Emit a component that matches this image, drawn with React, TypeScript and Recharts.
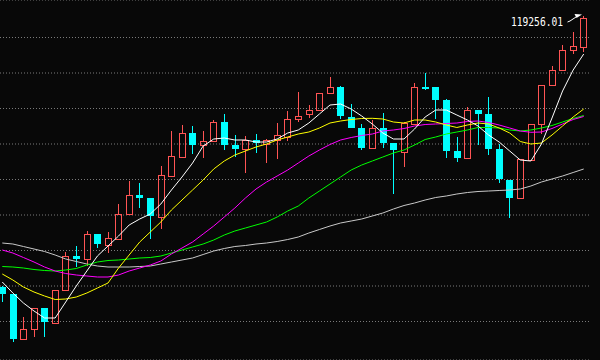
import React from 'react';
import { ComposedChart, Bar, Line, XAxis, YAxis, CartesianGrid, ReferenceDot } from 'recharts';

const days = [
  'D01','D02','D03','D04','D05','D06','D07','D08','D09','D10',
  'D11','D12','D13','D14','D15','D16','D17','D18','D19','D20',
  'D21','D22','D23','D24','D25','D26','D27','D28','D29','D30',
  'D31','D32','D33','D34','D35','D36','D37','D38','D39','D40',
  'D41','D42','D43','D44','D45','D46','D47','D48','D49','D50',
  'D51','D52','D53','D54','D55','D56',
];

const opens = [
  65000, 63600, 54540, 56540, 60800, 57860, 64340, 71200, 70600, 75600,
  73460, 74660, 79540, 83340, 82800, 79060, 87260, 91060, 95800, 93340,
  94140, 97940, 93340, 92540, 94460, 93600, 94460, 95000, 98540, 99540,
  100340, 103740, 105000, 99060, 96860, 92740, 96740, 93740, 92060, 97660,
  105000, 104940, 102400, 92200, 90740, 100340, 99660, 92600, 86460, 82740,
  90460, 97540, 105340, 108340, 112340, 113060,
];
const highs = [
  65200, 63600, 59060, 60800, 60800, 64400, 71940, 73200, 76200, 75600,
  76000, 81600, 86200, 85860, 82800, 89200, 96200, 97400, 97200, 96200,
  98400, 99660, 95340, 95200, 95600, 94600, 97860, 100260, 104060, 101400,
  103800, 107000, 105200, 101540, 97540, 98340, 99740, 93740, 97940, 105740,
  107800, 104940, 102600, 95000, 101000, 100340, 103000, 93540, 86460, 90600,
  97600, 105400, 109200, 113400, 115940, 119256.01,
];
const lows = [
  62000, 54060, 54540, 55060, 54940, 57860, 64340, 69060, 69200, 72900,
  71740, 74660, 79540, 80860, 74660, 76660, 87260, 91060, 91700, 90860,
  94140, 92400, 90940, 87860, 91860, 89860, 90660, 94200, 97940, 98740,
  100340, 103740, 98660, 96740, 92460, 92740, 92860, 83540, 89060, 97660,
  104400, 98600, 90740, 90060, 90740, 93400, 91460, 85740, 78740, 82740,
  90460, 95660, 105340, 108340, 111660, 112060,
];
const closes = [
  63600, 54660, 56540, 60800, 58060, 64400, 71200, 70600, 75540, 73700,
  74800, 79540, 83340, 82800, 79200, 87340, 91140, 95740, 93460, 94200,
  97940, 93460, 92660, 94460, 93740, 94460, 95340, 98600, 99140, 100340,
  103800, 104940, 99200, 96860, 92860, 96740, 93860, 92340, 97740, 104940,
  104740, 102460, 92260, 90860, 100340, 99660, 92660, 86540, 82860, 90600,
  97600, 105400, 108340, 112340, 113140, 118740,
];

const ma5 = [
  66000, 63800, 61800, 60200, 58800, 58800, 62000, 65200, 68200, 71200,
  73200, 75200, 77400, 78600, 79600, 81600, 84400, 87000, 89800, 93200,
  94600, 94800, 94400, 94400, 94000, 94000, 94600, 95800, 96400, 97800,
  99600, 101400, 101600, 100600, 99200, 97600, 95800, 94600, 94600, 96600,
  99000, 100400, 100400, 99400, 98400, 97200, 95400, 94000, 92200, 90400,
  90200, 93600, 98800, 104200, 108400, 111600,
];
const ma10 = [
  67600, 66400, 65000, 64000, 63200, 62500, 62600, 63000, 63800, 64800,
  65800, 68800, 71400, 74000, 76000, 78000, 80400, 82400, 84400, 86400,
  88600, 90200, 91400, 92200, 93000, 93600, 94400, 95000, 95600, 96000,
  96800, 97800, 98200, 98500, 98700, 98740, 98600, 98000, 97800, 98400,
  98400, 98000, 97400, 96900, 97400, 97800, 97600, 96800, 95800, 94100,
  93600, 93800, 95400, 97200, 99000, 100600,
];
const ma20 = [
  72400, 71800, 70900, 70000, 69000, 68200, 67700, 67400, 67200, 67000,
  67000, 67400, 68200, 68800, 69400, 70200, 71600, 72800, 74000, 75600,
  77200, 79000, 80800, 82800, 84600, 86000, 87200, 88400, 89800, 91200,
  92400, 93500, 94400, 94900, 95300, 95600, 96200, 96400, 96700, 97200,
  97500, 97600, 97700, 97800, 98100, 98200, 97900, 97400, 96800, 96200,
  95940, 96000, 96700, 97600, 98500, 99100,
];
const ma30 = [
  69100, 69000, 68800, 68500, 68300, 68200, 68400, 68700, 69400, 70000,
  70300, 70400, 70600, 70800, 70900, 71200, 71800, 72400, 73000, 73600,
  74400, 75400, 76200, 76800, 77400, 78000, 79000, 80200, 81200, 82800,
  84200, 85600, 87000, 88400, 89400, 90200, 91000, 91800, 92400, 93400,
  94500, 95000, 95600, 96000, 96400, 96900, 96900, 96800, 96400, 96200,
  96400, 96800, 97300, 98000, 98700, 99300,
];
const ma60 = [
  73800, 73600, 73100, 72600, 72100, 71400, 70600, 70100, 69600, 69200,
  69000, 69000, 69000, 69100, 69200, 69600, 70000, 70400, 70800, 71500,
  72200, 72700, 73100, 73300, 73600, 73800, 74100, 74500, 75000, 75800,
  76500, 77200, 77800, 78200, 78600, 79200, 79800, 80600, 81300, 81800,
  82400, 82900, 83200, 83600, 83900, 84100, 84200, 84300, 84400, 84600,
  85200, 86000, 86600, 87200, 87900, 88600,
];

const gridTicks = [114900, 107800, 100700, 93600, 86500, 79400, 72300, 65200, 58100];
const priceDomain = [50400, 122400];

const RED = '#ff5454';
const CYAN = '#00ffff';
const BG = '#080808';

const data = days.map((d, i) => ({
  d,
  open: opens[i],
  high: highs[i],
  low: lows[i],
  close: closes[i],
  ma5: ma5[i],
  ma10: ma10[i],
  ma20: ma20[i],
  ma30: ma30[i],
  ma60: ma60[i],
}));

const lastIdx = days.length - 1;

const Candle = (props: any) => {
  const { x, y, width, height, payload } = props;
  if (!payload || x == null || y == null) return null;
  const { open, close, high, low } = payload;
  const up = close >= open;
  const span = high - low || 1;
  const toY = (v: number) => y + ((high - v) / span) * height;
  const cx = Math.floor(x + width / 2) + 0.5;
  const yHigh = Math.round(toY(high));
  const yLow = Math.round(toY(low));
  const yTop = Math.round(toY(Math.max(open, close)));
  const yBot = Math.round(toY(Math.min(open, close)));
  if (up) {
    return (
      <g>
        {yTop > yHigh && <line x1={cx} x2={cx} y1={yHigh} y2={yTop} stroke={RED} strokeWidth={1} />}
        {yLow > yBot && <line x1={cx} x2={cx} y1={yBot} y2={yLow} stroke={RED} strokeWidth={1} />}
        <rect x={cx - 3} y={yTop + 0.5} width={6} height={Math.max(yBot - yTop, 1)} fill="none" stroke={RED} strokeWidth={1} />
      </g>
    );
  }
  return (
    <g>
      <line x1={cx} x2={cx} y1={yHigh} y2={Math.max(yLow, yHigh + 1)} stroke={CYAN} strokeWidth={1} />
      <rect x={cx - 3.5} y={yTop} width={7} height={Math.max(yBot - yTop, 2)} fill={CYAN} />
    </g>
  );
};

const Annotation = (props: any) => {
  const { cx, cy } = props;
  if (cx == null || cy == null) return null;
  const tx = Math.floor(cx);
  const ty = Math.round(cy);
  return (
    <g>
      <text
        x={tx - 72}
        y={ty + 10}
        fill="#ffffff"
        fontFamily="'DejaVu Sans Mono', monospace"
        fontSize={11.5}
        textLength={52}
        lengthAdjust="spacingAndGlyphs"
      >
        {highs[lastIdx].toFixed(2)}
      </text>
      <path
        d={`M ${tx - 15.5} ${ty + 6} L ${tx - 13} ${ty + 5} L ${tx - 7} ${ty + 1}`}
        fill="none"
        stroke="#ffffff"
        strokeWidth={1}
      />
      <path d={`M ${tx - 8.5} ${ty - 2} L ${tx - 1} ${ty - 1.5} L ${tx - 6.5} ${ty + 2} Z`} fill="#ffffff" />
    </g>
  );
};

export default function App() {
  return (
    <div
      style={{
        position: 'fixed',
        left: 0,
        top: 0,
        width: 600,
        height: 360,
        overflow: 'hidden',
        background: BG,
      }}
    >
      <div style={{ position: 'absolute', left: -3, top: 0 }}>
        <ComposedChart
          width={592}
          height={360}
          data={data}
          margin={{ top: 0, right: 0, bottom: 0, left: 0 }}
        >
          <CartesianGrid vertical={false} stroke="#7a7a7a" strokeDasharray="1 2" />
          <XAxis dataKey="d" hide />
          <YAxis hide domain={priceDomain} ticks={gridTicks} allowDataOverflow type="number" />
          <Line dataKey="ma60" stroke="#c8c8c8" strokeWidth={1} dot={false} activeDot={false} isAnimationActive={false} />
          <Line dataKey="ma30" stroke="#00ff00" strokeWidth={1} dot={false} activeDot={false} isAnimationActive={false} />
          <Line dataKey="ma20" stroke="#ff00ff" strokeWidth={1} dot={false} activeDot={false} isAnimationActive={false} />
          <Line dataKey="ma10" stroke="#ffff00" strokeWidth={1} dot={false} activeDot={false} isAnimationActive={false} />
          <Line dataKey="ma5" stroke="#ffffff" strokeWidth={1} dot={false} activeDot={false} isAnimationActive={false} />
          <Bar
            dataKey={(row: any) => [row.low, row.high]}
            barSize={7}
            shape={<Candle />}
            activeBar={false}
            isAnimationActive={false}
          />
          <ReferenceDot
            x={days[lastIdx]}
            y={highs[lastIdx]}
            r={0}
            ifOverflow="visible"
            shape={(p: any) => <Annotation {...p} />}
          />
        </ComposedChart>
      </div>
    </div>
  );
}
